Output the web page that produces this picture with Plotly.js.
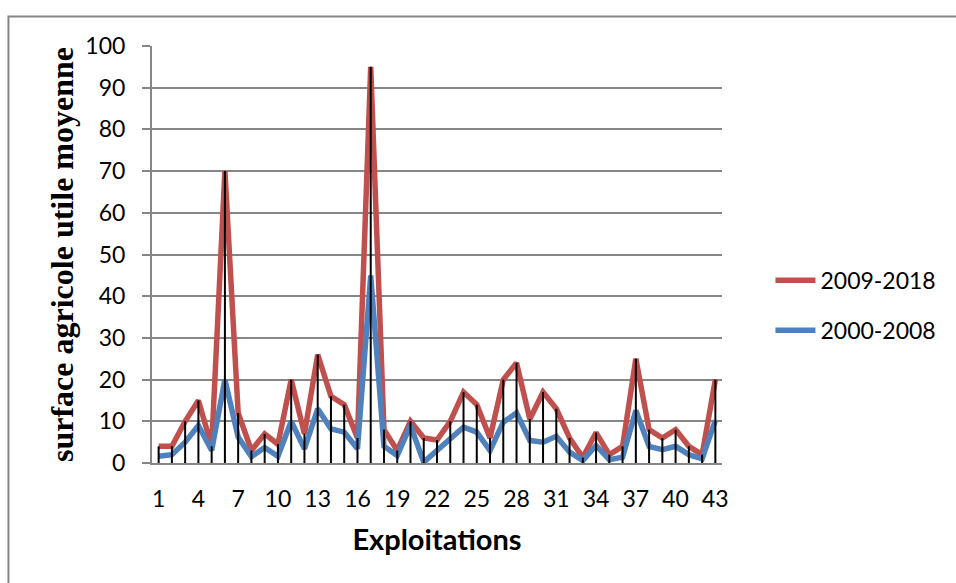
<!DOCTYPE html>
<html>
<head>
<meta charset="utf-8">
<script src="https://cdn.plot.ly/plotly-3.0.1.min.js"></script>
<style>
  html, body { margin: 0; padding: 0; background: #ffffff; }
  #chart { width: 956px; height: 583px; }
</style>
</head>
<body>
<div id="chart"></div>
<script>
// Exploitations 1..43
const exploitations = [1,2,3,4,5,6,7,8,9,10,11,12,13,14,15,16,17,18,19,20,21,22,23,24,25,26,27,28,29,30,31,32,33,34,35,36,37,38,39,40,41,42,43];
const tickLabels = [1,4,7,10,13,16,19,22,25,28,31,34,37,40,43];
const serie2009_2018 = [4,4,10,15,4,70,12,3,7,4.5,20,7,26,16,14,6,95,8,3,10,6,5.5,10,17,14,6,20,24,10.5,17,13,6,1.3,7.3,2,4,25,8,6,8,4,2,20];
const serie2000_2008 = [1.6,2,5,9,3,20,6.2,1.5,3.7,1.6,10,3.4,13,8.2,7.4,3.4,45,4,1.8,9,0.2,3,5.4,8.6,7.4,3,9.8,12,5.4,5,6.4,2.6,0.6,4.2,0.8,1.4,12.6,4,3.2,4,2,1,10.2];

// drop lines (from the higher series down to the axis), built from the data
const dropX = [], dropY = [];
exploitations.forEach((x, i) => {
  const top = Math.max(serie2009_2018[i], serie2000_2008[i]);
  dropX.push(x, x, null);
  dropY.push(0, top, null);
});

const traces = [
  {
    x: exploitations, y: serie2009_2018, name: '2009-2018', type: 'scatter', mode: 'lines',
    line: {color: '#C0504D', width: 5.5, shape: 'linear'}, legendgroup: 'a'
  },
  {
    x: exploitations, y: serie2000_2008, name: '2000-2008', type: 'scatter', mode: 'lines',
    line: {color: '#4F81BD', width: 5.5, shape: 'linear'}, legendgroup: 'b'
  },
  {
    x: dropX, y: dropY, type: 'scatter', mode: 'lines', showlegend: false, hoverinfo: 'skip',
    line: {color: '#000000', width: 2}
  }
];

const FONT = 'Lato, "Open Sans", sans-serif';
const layout = {
  width: 956, height: 583,
  margin: {l: 152, r: 234, t: 46, b: 120},
  paper_bgcolor: '#ffffff', plot_bgcolor: '#ffffff',
  font: {family: FONT, color: '#000000', size: 23},
  showlegend: true,
  legend: {
    x: 1.085, y: 0.378, xanchor: 'left', yanchor: 'middle',
    font: {family: FONT, size: 23, color: '#000000'},
    traceorder: 'grouped', tracegroupgap: 17, itemwidth: 40,
    bgcolor: 'rgba(0,0,0,0)'
  },
  xaxis: {
    range: [0.5, 43.5], tickmode: 'array', tickvals: tickLabels, ticktext: tickLabels.map(String),
    showgrid: false, zeroline: false, showline: true, linecolor: '#868686', linewidth: 2,
    ticks: '', ticklabelstandoff: 14,
    tickfont: {family: FONT, size: 23, color: '#000000'},
    title: {text: 'Exploitations', font: {family: FONT, size: 29, color: '#000000', weight: 'bold'}, standoff: 19}
  },
  yaxis: {
    range: [0, 100], tick0: 0, dtick: 10,
    showgrid: true, gridcolor: '#868686', gridwidth: 2,
    zeroline: false, showline: true, linecolor: '#868686', linewidth: 2,
    ticks: 'outside', ticklen: 8, tickcolor: '#868686', tickwidth: 2, ticklabelstandoff: 12,
    tickfont: {family: FONT, size: 23, color: '#000000'},
    title: {text: 'surface agricole utile moyenne', font: {family: '"Liberation Serif", "Times New Roman", serif', size: 32, color: '#000000', weight: 'bold'}, standoff: 2}
  },
  shapes: [{
    type: 'rect', xref: 'paper', yref: 'paper',
    x0: -0.2518, x1: 1.5, y0: -0.4, y1: 1.0707,
    line: {color: '#868686', width: 2}, fillcolor: 'rgba(0,0,0,0)', layer: 'below'
  }]
};

Plotly.newPlot('chart', traces, layout, {displayModeBar: false, staticPlot: true});
</script>
</body>
</html>
